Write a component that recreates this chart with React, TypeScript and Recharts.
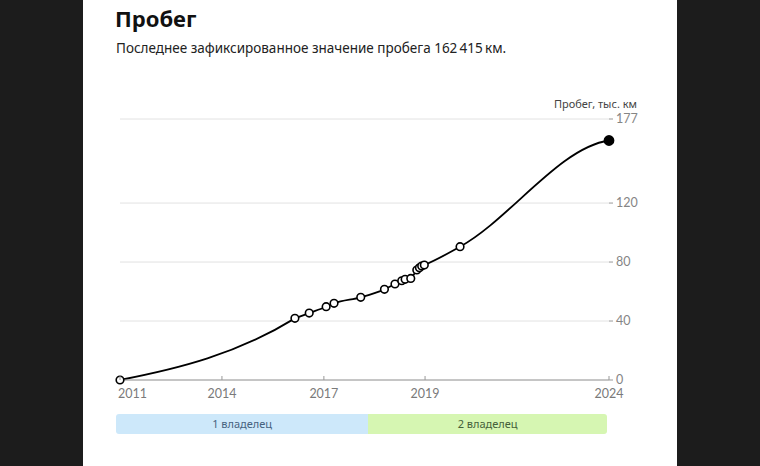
import React from "react";
import { LineChart, Line, XAxis, YAxis, CartesianGrid } from "recharts";

// inspection dates (decimal years) and mileage, thousand km
const years = [
  2011.0, 2015.65, 2016.03, 2016.48, 2016.69, 2017.4, 2018.03, 2018.31, 2018.49,
  2018.58, 2018.73, 2018.89, 2018.96, 2019.02, 2019.09, 2020.04, 2024.0,
];
const mileage = [
  0, 41.8, 45.4, 49.7, 52.0, 56.1, 61.5, 65.1, 67.3, 68.3, 68.9, 74.6, 76.1, 77.3,
  78.0, 90.4, 162.415,
];

const xTicks = [2011, 2013.71, 2016.42, 2019.11, 2024];
const xTickLabels = ["2011", "2014", "2017", "2019", "2024"];
const yTicks = [0, 40, 80, 120, 177];

const owners = ["1 владелец", "2 владелец"];
const ownerFrom = [2011, 2017.6];
const ownerTo = [2017.6, 2024];

const rows = years.map((year, i) => ({ year, km: mileage[i] }));

// hermite curve: monotone tangents inside, eased first and last gaps
function mileageCurve(context: any) {
  let xs: number[] = [];
  let ys: number[] = [];
  return {
    areaStart() {},
    areaEnd() {},
    lineStart() {
      xs = [];
      ys = [];
    },
    point(x: number, y: number) {
      xs.push(+x);
      ys.push(+y);
    },
    lineEnd() {
      const n = xs.length;
      if (!n) return;
      context.moveTo(xs[0], ys[0]);
      if (n < 3) {
        if (n === 2) context.lineTo(xs[1], ys[1]);
        return;
      }
      const h: number[] = [];
      const s: number[] = [];
      for (let i = 0; i < n - 1; i++) {
        h[i] = xs[i + 1] - xs[i];
        s[i] = (ys[i + 1] - ys[i]) / h[i];
      }
      const m: number[] = new Array(n).fill(0);
      for (let i = 1; i < n - 1; i++) {
        const p = (s[i - 1] * h[i] + s[i] * h[i - 1]) / (h[i - 1] + h[i]);
        m[i] =
          (Math.sign(s[i - 1]) + Math.sign(s[i])) *
            Math.min(Math.abs(s[i - 1]), Math.abs(s[i]), 0.5 * Math.abs(p)) || 0;
      }
      for (let i = 0; i < n - 1; i++) {
        let t0 = m[i];
        let t1 = m[i + 1];
        if (i === 0) {
          t0 = 0.55 * s[0];
          t1 = 1.75 * s[0];
        }
        if (i === n - 2) t1 = 0.2 * s[i];
        context.bezierCurveTo(
          xs[i] + h[i] / 3,
          ys[i] + (t0 * h[i]) / 3,
          xs[i + 1] - h[i] / 3,
          ys[i + 1] - (t1 * h[i]) / 3,
          xs[i + 1],
          ys[i + 1]
        );
      }
    },
  };
}

const XTick = (props: any) => {
  const { x, y, payload, index } = props;
  const idx = xTicks.indexOf(payload.value);
  return (
    <g>
      <line x1={x} x2={x} y1={y - 4} y2={y} stroke="#999" />
      <text
        x={index === 0 ? x - 2 : x}
        y={y + 18}
        textAnchor={index === 0 ? "start" : "middle"}
        fontSize={12.5}
        fontFamily="Lato"
        fill="#7a7a7a"
      >
        {xTickLabels[idx]}
      </text>
    </g>
  );
};

const renderDot = (props: any) => {
  const { cx, cy, index } = props;
  const last = index === rows.length - 1;
  return (
    <circle
      key={`dot-${index}`}
      cx={cx}
      cy={cy}
      r={last ? 4.6 : 3.8}
      fill={last ? "#000" : "#fff"}
      stroke="#000"
      strokeWidth={1.6}
    />
  );
};

const PLOT_L = 120;
const PLOT_R = 609;
const toPx = (yr: number) => PLOT_L + ((yr - 2011) / (2024 - 2011)) * (PLOT_R - PLOT_L);

export default function App() {
  return (
    <div
      style={{
        position: "absolute",
        left: 0,
        top: 0,
        width: 760,
        height: 466,
        background: "#1c1c1c",
        overflow: "hidden",
        fontFamily: "'Noto Sans', sans-serif",
      }}
    >
      <div style={{ position: "absolute", left: 83, top: 0, width: 594, height: 466, background: "#fff" }} />
      <div
        style={{
          position: "absolute",
          left: 115,
          top: 7,
          fontSize: 22,
          lineHeight: "22px",
          fontWeight: 700,
          color: "#111",
        }}
      >
        Пробег
      </div>
      <div
        style={{
          position: "absolute",
          left: 116,
          top: 42,
          fontSize: 13.5,
          lineHeight: "13px",
          color: "#222",
          whiteSpace: "nowrap",
        }}
      >
        Последнее зафиксированное значение пробега 162{"\u202F"}415{"\u202F"}км.
      </div>
      <div
        style={{
          position: "absolute",
          right: 760 - 637,
          top: 98,
          fontSize: 11,
          lineHeight: "11px",
          color: "#444",
          whiteSpace: "nowrap",
        }}
      >
        Пробег, тыс. км
      </div>
      <div style={{ position: "absolute", left: 100, top: 90 }}>
        <LineChart width={580} height={320} data={rows} margin={{ top: 29, right: 31, bottom: 10, left: 20 }}>
          <CartesianGrid vertical={false} stroke="#e2e2e2" />
          <XAxis
            type="number"
            dataKey="year"
            domain={[2011, 2024]}
            ticks={xTicks}
            interval={0}
            tick={<XTick />}
            tickLine={false}
            tickSize={0}
            tickMargin={0}
            axisLine={{ stroke: "#9a9a9a" }}
            height={20}
          />
          <YAxis
            orientation="right"
            domain={[0, 177]}
            ticks={yTicks}
            interval={0}
            width={40}
            axisLine={false}
            tickLine={{ stroke: "#999" }}
            tickSize={4}
            tickMargin={3}
            tick={{ fill: "#858585", fontSize: 12.5, fontFamily: "Lato" }}
          />
          <Line
            dataKey="km"
            type={mileageCurve as any}
            stroke="#000"
            strokeWidth={1.8}
            dot={renderDot}
            activeDot={false}
            isAnimationActive={false}
          />
        </LineChart>
      </div>
      {owners.map((name, i) => {
        const left = toPx(ownerFrom[i]) - (i === 0 ? 4 : 0);
        const right = toPx(ownerTo[i]) - (i === owners.length - 1 ? 2 : 0);
        return (
          <div
            key={name}
            style={{
              position: "absolute",
              left,
              top: 414,
              width: right - left,
              height: 20,
              background: i === 0 ? "#cde8fa" : "#d6f6b2",
              borderRadius: i === 0 ? "3px 0 0 3px" : "0 3px 3px 0",
              color: i === 0 ? "#46627f" : "#45613a",
              fontSize: 11,
              lineHeight: "20px",
              textAlign: "center",
            }}
          >
            {name}
          </div>
        );
      })}
    </div>
  );
}
